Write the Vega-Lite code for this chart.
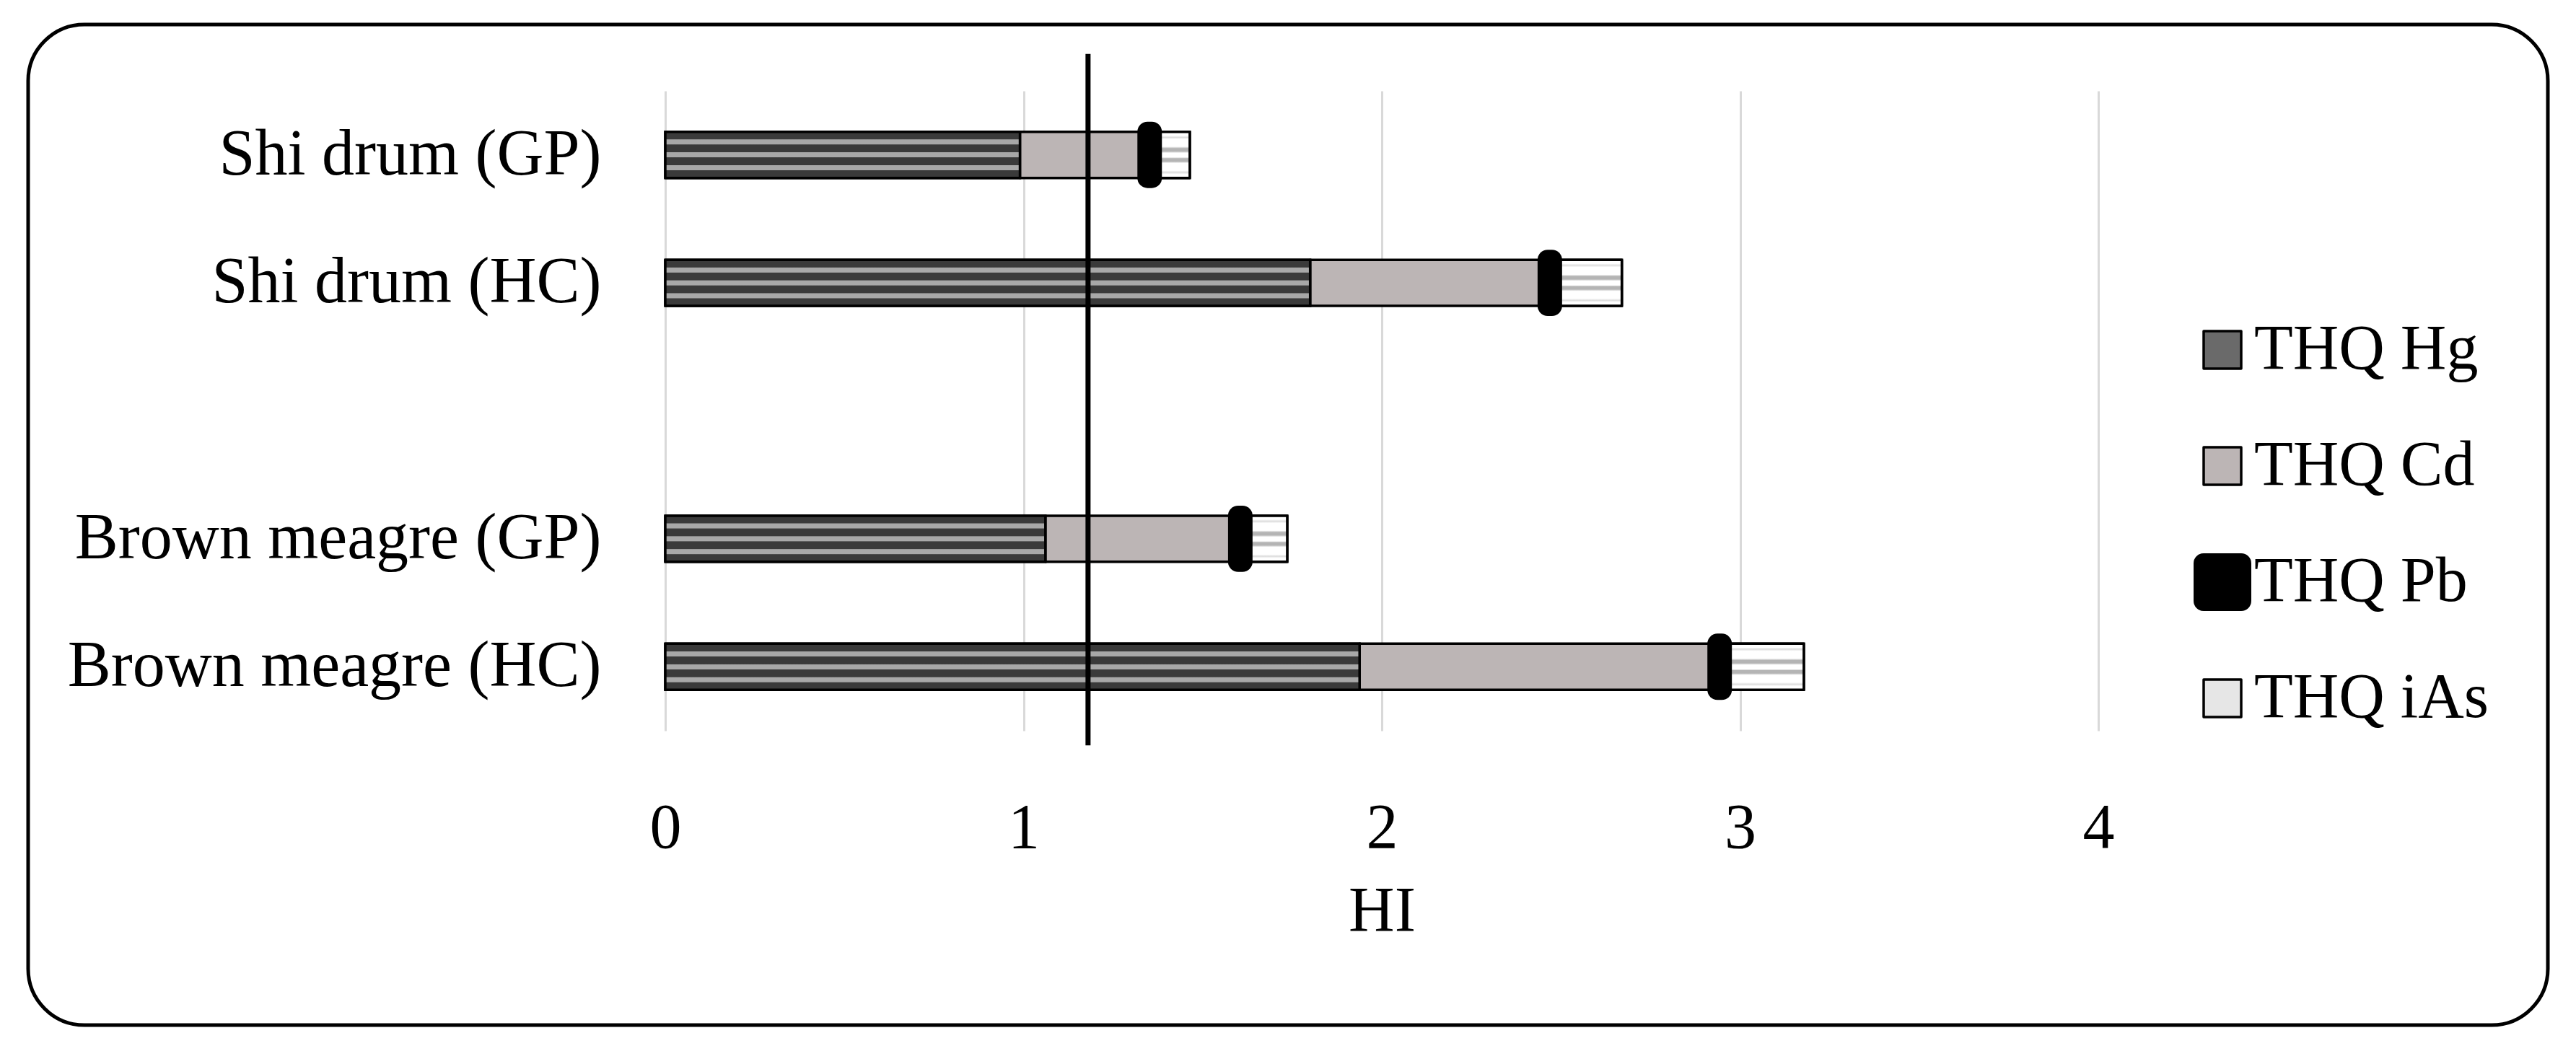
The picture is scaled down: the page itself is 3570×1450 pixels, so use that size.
{
  "$schema": "https://vega.github.io/schema/vega-lite/v6.json",
  "width": 3492,
  "height": 1387,
  "autosize": "none",
  "padding": {"left": 39, "top": 34, "right": 39, "bottom": 29},
  "background": "white",
  "config": {
    "view": {"stroke": "black", "strokeWidth": 5, "cornerRadius": 78, "fill": "white"},
    "font": "Liberation Serif",
    "axis": {"labelFont": "Liberation Serif", "titleFont": "Liberation Serif", "labelColor": "black", "titleColor": "black"}
  },
  "resolve": {"scale": {"x": "shared", "y": "shared"}, "axis": {"x": "independent"}},
  "encoding": {
    "y": {
      "field": "fish",
      "type": "nominal",
      "scale": {
        "domain": ["Shi drum (GP)", "Shi drum (HC)", " ", "Brown meagre (GP)", "Brown meagre (HC)"],
        "range": [92, 979],
        "paddingInner": 0.64,
        "paddingOuter": 0.32
      },
      "axis": {
        "orient": "left",
        "offset": -883,
        "title": null,
        "domain": false,
        "ticks": false,
        "grid": false,
        "labelFontSize": 90,
        "labelPadding": 89,
        "labelLimit": 1500
      }
    },
    "x": {
      "field": "x0",
      "type": "quantitative",
      "scale": {"domain": [0, 4], "nice": false, "range": [883, 2869]},
      "axis": {
        "orient": "top",
        "offset": 0,
        "values": [0, 1, 2, 3, 4],
        "title": null,
        "labels": false,
        "domain": false,
        "ticks": false,
        "grid": true,
        "gridColor": "#d9d9d9",
        "gridWidth": 3
      }
    },
    "x2": {"field": "x1"}
  },
  "layer": [
    {
      "data": {
        "values": [
          {"fish": "Shi drum (GP)", "element": "THQ Hg", "k": 1, "thq": 0.99},
          {"fish": "Shi drum (GP)", "element": "THQ Cd", "k": 2, "thq": 0.356},
          {"fish": "Shi drum (GP)", "element": "THQ Pb", "k": 3, "thq": 0.012},
          {"fish": "Shi drum (GP)", "element": "THQ iAs", "k": 4, "thq": 0.106},
          {"fish": "Shi drum (HC)", "element": "THQ Hg", "k": 1, "thq": 1.80},
          {"fish": "Shi drum (HC)", "element": "THQ Cd", "k": 2, "thq": 0.663},
          {"fish": "Shi drum (HC)", "element": "THQ Pb", "k": 3, "thq": 0.012},
          {"fish": "Shi drum (HC)", "element": "THQ iAs", "k": 4, "thq": 0.195},
          {"fish": "Brown meagre (GP)", "element": "THQ Hg", "k": 1, "thq": 1.061},
          {"fish": "Brown meagre (GP)", "element": "THQ Cd", "k": 2, "thq": 0.538},
          {"fish": "Brown meagre (GP)", "element": "THQ Pb", "k": 3, "thq": 0.012},
          {"fish": "Brown meagre (GP)", "element": "THQ iAs", "k": 4, "thq": 0.125},
          {"fish": "Brown meagre (HC)", "element": "THQ Hg", "k": 1, "thq": 1.938},
          {"fish": "Brown meagre (HC)", "element": "THQ Cd", "k": 2, "thq": 0.999},
          {"fish": "Brown meagre (HC)", "element": "THQ Pb", "k": 3, "thq": 0.012},
          {"fish": "Brown meagre (HC)", "element": "THQ iAs", "k": 4, "thq": 0.229}
        ]
      },
      "transform": [
        {"stack": "thq", "groupby": ["fish"], "sort": [{"field": "k", "order": "ascending"}], "as": ["x0", "x1"]}
      ],
      "layer": [
        {
          "mark": {"type": "bar", "stroke": "black", "strokeWidth": 3.5, "strokeJoin": "round"},
          "encoding": {
            "color": {
              "field": "element",
              "type": "nominal",
              "scale": {
                "domain": ["THQ Hg", "THQ Cd", "THQ Pb", "THQ iAs"],
                "range": ["#6a6a6a", "#bcb5b5", "#000000", "#e6e6e6"]
              },
              "legend": {
                "orient": "none",
                "legendX": 2997,
                "legendY": 407,
                "title": null,
                "labelFont": "Liberation Serif",
                "labelFontSize": 88,
                "labelColor": "black",
                "labelLimit": 600,
                "symbolType": "square",
                "symbolSize": 2704,
                "symbolStrokeColor": "black",
                "symbolStrokeWidth": 3.5,
                "symbolOpacity": 1,
                "rowPadding": 73,
                "labelOffset": 0,
                "encode": {
                  "symbols": {
                    "update": {
                      "strokeWidth": {"signal": "datum.value === 'THQ Pb' ? 28 : 3.5"},
                      "strokeJoin": {"value": "round"},
                      "stroke": {"value": "black"}
                    }
                  }
                }
              }
            }
          }
        },
        {
          "transform": [{"filter": "datum.k === 1"}],
          "mark": {
            "type": "bar",
            "stroke": "black",
            "strokeWidth": 3.5,
            "fill": {"gradient": "linear", "x1": 0, "y1": 0, "x2": 0, "y2": 1, "stops": [
              {"offset": 0, "color": "#3a3a3a"},
              {"offset": 0.16, "color": "#3a3a3a"},
              {"offset": 0.17, "color": "#a8a8a8"},
              {"offset": 0.27, "color": "#a8a8a8"},
              {"offset": 0.28, "color": "#3a3a3a"},
              {"offset": 0.44, "color": "#3a3a3a"},
              {"offset": 0.45, "color": "#a8a8a8"},
              {"offset": 0.55, "color": "#a8a8a8"},
              {"offset": 0.56, "color": "#3a3a3a"},
              {"offset": 0.72, "color": "#3a3a3a"},
              {"offset": 0.73, "color": "#a8a8a8"},
              {"offset": 0.83, "color": "#a8a8a8"},
              {"offset": 0.84, "color": "#3a3a3a"},
              {"offset": 1, "color": "#3a3a3a"}
            ]}
          }
        },
        {
          "transform": [{"filter": "datum.k === 4"}],
          "mark": {
            "type": "bar",
            "stroke": "black",
            "strokeWidth": 3.5,
            "fill": {"gradient": "linear", "x1": 0, "y1": 0, "x2": 0, "y2": 1, "stops": [
              {"offset": 0, "color": "#ffffff"},
              {"offset": 0.08, "color": "#ffffff"},
              {"offset": 0.12, "color": "#dcdcdc"},
              {"offset": 0.16, "color": "#ffffff"},
              {"offset": 0.32, "color": "#ffffff"},
              {"offset": 0.36, "color": "#b4b4b4"},
              {"offset": 0.42, "color": "#b4b4b4"},
              {"offset": 0.46, "color": "#ffffff"},
              {"offset": 0.55, "color": "#ffffff"},
              {"offset": 0.58, "color": "#b4b4b4"},
              {"offset": 0.64, "color": "#b4b4b4"},
              {"offset": 0.68, "color": "#ffffff"},
              {"offset": 0.84, "color": "#ffffff"},
              {"offset": 0.88, "color": "#dcdcdc"},
              {"offset": 0.92, "color": "#ffffff"},
              {"offset": 1, "color": "#ffffff"}
            ]}
          }
        },
        {
          "transform": [{"filter": "datum.k === 3"}],
          "mark": {"type": "bar", "fill": "black", "stroke": "black", "strokeWidth": 28, "strokeJoin": "round"}
        }
      ]
    },
    {
      "data": {"values": [{"limit": 1.18}]},
      "mark": {"type": "rule", "color": "black", "strokeWidth": 7, "yOffset": -140, "y2Offset": 109},
      "encoding": {
        "x": {
          "field": "limit",
          "type": "quantitative",
          "axis": {
            "orient": "bottom",
            "offset": -408,
            "values": [0, 1, 2, 3, 4],
            "title": "HI",
            "titleFontSize": 88,
            "titleFontWeight": "normal",
            "titlePadding": 27,
            "domain": false,
            "ticks": false,
            "grid": false,
            "labelFlush": false,
            "labelFontSize": 88,
            "labelPadding": 91
          }
        },
        "x2": null,
        "y": {"datum": "Shi drum (GP)"},
        "y2": {"datum": "Brown meagre (HC)"}
      }
    }
  ]
}
